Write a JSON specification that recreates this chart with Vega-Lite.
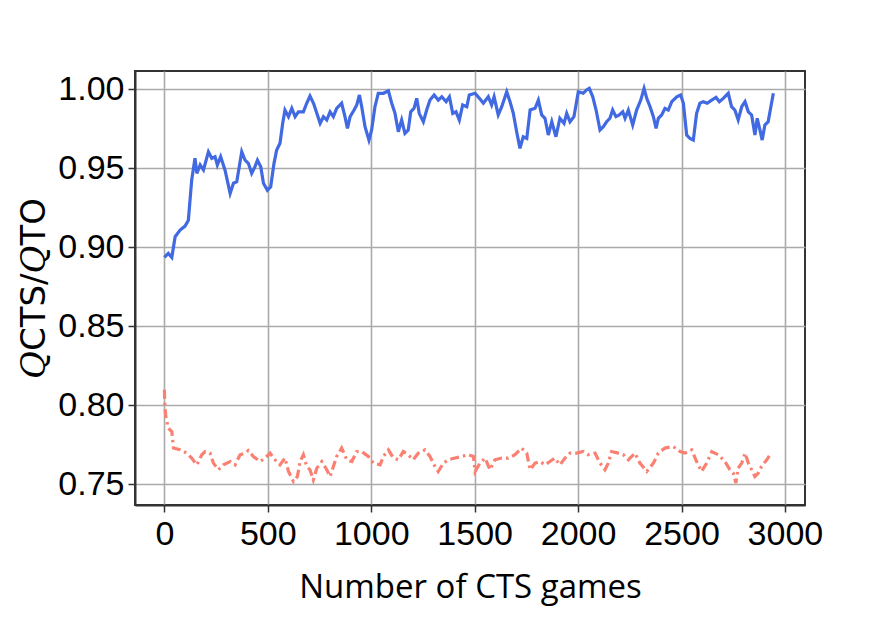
{
  "$schema": "https://vega.github.io/schema/vega-lite/v6.json",
  "width": 670,
  "height": 434,
  "autosize": {"type": "none"},
  "padding": {"left": 135, "top": 71, "right": 85, "bottom": 131},
  "background": "white",
  "config": {
    "view": {"stroke": "#333333", "strokeWidth": 2},
    "axis": {
      "labelFont": "Liberation Sans",
      "labelFontSize": 34,
      "labelColor": "#000000",
      "gridColor": "#aaaaaa",
      "gridWidth": 1.6,
      "tickColor": "#333333",
      "tickSize": 7,
      "tickWidth": 1.5,
      "domainColor": "#333333",
      "domainWidth": 2
    }
  },
  "datasets": {
    "blue": [
      {"x":0,"y":0.8935},{"x":19,"y":0.896},{"x":36,"y":0.8935},{"x":52,"y":0.9066},{"x":76,"y":0.9108},{"x":100,"y":0.9133},{"x":116,"y":0.917},{"x":132,"y":0.9424},{"x":148,"y":0.9562},{"x":157,"y":0.9467},{"x":173,"y":0.952},{"x":189,"y":0.9488},{"x":213,"y":0.9603},{"x":229,"y":0.9562},{"x":245,"y":0.9572},{"x":256,"y":0.952},{"x":272,"y":0.9572},{"x":293,"y":0.9488},{"x":318,"y":0.934},{"x":334,"y":0.9404},{"x":350,"y":0.9414},{"x":374,"y":0.9603},{"x":390,"y":0.955},{"x":406,"y":0.953},{"x":422,"y":0.9467},{"x":438,"y":0.9509},{"x":450,"y":0.955},{"x":466,"y":0.9509},{"x":479,"y":0.9404},{"x":498,"y":0.936},{"x":514,"y":0.9382},{"x":530,"y":0.953},{"x":543,"y":0.9614},{"x":559,"y":0.9657},{"x":572,"y":0.9783},{"x":583,"y":0.9867},{"x":600,"y":0.9825},{"x":616,"y":0.9878},{"x":632,"y":0.9825},{"x":648,"y":0.9856},{"x":672,"y":0.9856},{"x":688,"y":0.991},{"x":704,"y":0.9956},{"x":721,"y":0.991},{"x":737,"y":0.9846},{"x":753,"y":0.9783},{"x":769,"y":0.9825},{"x":785,"y":0.9804},{"x":801,"y":0.9856},{"x":817,"y":0.9825},{"x":833,"y":0.9878},{"x":857,"y":0.991},{"x":873,"y":0.9825},{"x":885,"y":0.9751},{"x":898,"y":0.9825},{"x":917,"y":0.9867},{"x":930,"y":0.9899},{"x":943,"y":0.9962},{"x":954,"y":0.9888},{"x":970,"y":0.9762},{"x":989,"y":0.9677},{"x":1002,"y":0.9741},{"x":1018,"y":0.9888},{"x":1034,"y":0.9973},{"x":1059,"y":0.9973},{"x":1083,"y":0.9989},{"x":1099,"y":0.991},{"x":1115,"y":0.9846},{"x":1131,"y":0.973},{"x":1147,"y":0.9804},{"x":1163,"y":0.972},{"x":1179,"y":0.9741},{"x":1191,"y":0.9856},{"x":1207,"y":0.9878},{"x":1220,"y":0.9941},{"x":1232,"y":0.9846},{"x":1252,"y":0.9793},{"x":1268,"y":0.9867},{"x":1284,"y":0.993},{"x":1304,"y":0.9962},{"x":1324,"y":0.993},{"x":1341,"y":0.9951},{"x":1362,"y":0.992},{"x":1378,"y":0.9951},{"x":1394,"y":0.9846},{"x":1410,"y":0.9856},{"x":1426,"y":0.9804},{"x":1442,"y":0.9899},{"x":1462,"y":0.9888},{"x":1474,"y":0.9962},{"x":1502,"y":0.9973},{"x":1523,"y":0.9941},{"x":1542,"y":0.991},{"x":1566,"y":0.9951},{"x":1582,"y":0.9899},{"x":1594,"y":0.9951},{"x":1614,"y":0.9836},{"x":1631,"y":0.9888},{"x":1655,"y":0.9983},{"x":1671,"y":0.992},{"x":1687,"y":0.9846},{"x":1703,"y":0.973},{"x":1719,"y":0.9625},{"x":1735,"y":0.9698},{"x":1752,"y":0.9688},{"x":1768,"y":0.9867},{"x":1792,"y":0.9878},{"x":1808,"y":0.993},{"x":1824,"y":0.9836},{"x":1840,"y":0.9815},{"x":1856,"y":0.9709},{"x":1873,"y":0.9793},{"x":1893,"y":0.9698},{"x":1912,"y":0.9815},{"x":1932,"y":0.9783},{"x":1945,"y":0.9846},{"x":1961,"y":0.9793},{"x":1980,"y":0.9825},{"x":2001,"y":0.9983},{"x":2025,"y":0.9973},{"x":2041,"y":0.9994},{"x":2054,"y":1.0004},{"x":2071,"y":0.9951},{"x":2087,"y":0.9867},{"x":2106,"y":0.9741},{"x":2122,"y":0.9762},{"x":2138,"y":0.9793},{"x":2154,"y":0.9815},{"x":2167,"y":0.9867},{"x":2183,"y":0.9825},{"x":2199,"y":0.9836},{"x":2216,"y":0.9856},{"x":2227,"y":0.9815},{"x":2243,"y":0.9867},{"x":2264,"y":0.9772},{"x":2283,"y":0.9867},{"x":2303,"y":0.993},{"x":2319,"y":1.0004},{"x":2332,"y":0.9941},{"x":2348,"y":0.9888},{"x":2364,"y":0.9825},{"x":2377,"y":0.9751},{"x":2388,"y":0.9815},{"x":2404,"y":0.9836},{"x":2420,"y":0.9878},{"x":2436,"y":0.9867},{"x":2453,"y":0.992},{"x":2477,"y":0.9951},{"x":2496,"y":0.9962},{"x":2509,"y":0.991},{"x":2525,"y":0.9709},{"x":2541,"y":0.9688},{"x":2557,"y":0.9677},{"x":2573,"y":0.9846},{"x":2589,"y":0.991},{"x":2605,"y":0.992},{"x":2624,"y":0.991},{"x":2646,"y":0.993},{"x":2667,"y":0.9947},{"x":2683,"y":0.992},{"x":2702,"y":0.9941},{"x":2726,"y":0.9973},{"x":2742,"y":0.9888},{"x":2758,"y":0.9867},{"x":2774,"y":0.9804},{"x":2791,"y":0.9888},{"x":2807,"y":0.992},{"x":2823,"y":0.9856},{"x":2839,"y":0.9836},{"x":2855,"y":0.9709},{"x":2866,"y":0.9815},{"x":2879,"y":0.9741},{"x":2890,"y":0.9677},{"x":2903,"y":0.9772},{"x":2919,"y":0.9793},{"x":2932,"y":0.9888},{"x":2944,"y":0.9973}
    ],
    "red": [
      {"x":0,"y":0.8098},{"x":3,"y":0.7982},{"x":8,"y":0.7919},{"x":19,"y":0.7855},{"x":36,"y":0.7834},{"x":44,"y":0.7729},{"x":76,"y":0.7718},{"x":108,"y":0.7697},{"x":132,"y":0.7666},{"x":157,"y":0.7623},{"x":181,"y":0.7687},{"x":197,"y":0.7707},{"x":221,"y":0.7697},{"x":237,"y":0.7634},{"x":261,"y":0.7592},{"x":285,"y":0.7623},{"x":318,"y":0.7644},{"x":342,"y":0.7623},{"x":366,"y":0.7687},{"x":390,"y":0.7697},{"x":406,"y":0.7714},{"x":430,"y":0.7676},{"x":463,"y":0.7644},{"x":487,"y":0.7666},{"x":511,"y":0.7697},{"x":535,"y":0.7655},{"x":559,"y":0.7623},{"x":583,"y":0.7666},{"x":600,"y":0.7581},{"x":624,"y":0.7518},{"x":643,"y":0.7549},{"x":656,"y":0.7644},{"x":672,"y":0.7687},{"x":688,"y":0.7613},{"x":704,"y":0.7592},{"x":720,"y":0.7528},{"x":737,"y":0.7602},{"x":761,"y":0.7644},{"x":785,"y":0.7592},{"x":801,"y":0.7549},{"x":817,"y":0.7613},{"x":833,"y":0.7676},{"x":857,"y":0.7729},{"x":882,"y":0.7655},{"x":906,"y":0.7644},{"x":930,"y":0.7707},{"x":954,"y":0.7707},{"x":986,"y":0.7676},{"x":1010,"y":0.7634},{"x":1043,"y":0.7623},{"x":1059,"y":0.7676},{"x":1083,"y":0.7718},{"x":1107,"y":0.7666},{"x":1131,"y":0.7655},{"x":1155,"y":0.7707},{"x":1179,"y":0.7687},{"x":1203,"y":0.7655},{"x":1228,"y":0.7697},{"x":1260,"y":0.7718},{"x":1284,"y":0.7676},{"x":1308,"y":0.7613},{"x":1324,"y":0.7581},{"x":1349,"y":0.7634},{"x":1373,"y":0.7655},{"x":1405,"y":0.7666},{"x":1437,"y":0.7676},{"x":1469,"y":0.7687},{"x":1494,"y":0.7676},{"x":1502,"y":0.7581},{"x":1526,"y":0.7634},{"x":1550,"y":0.7666},{"x":1574,"y":0.7592},{"x":1598,"y":0.7655},{"x":1631,"y":0.7666},{"x":1663,"y":0.7666},{"x":1695,"y":0.7687},{"x":1727,"y":0.7729},{"x":1752,"y":0.7697},{"x":1768,"y":0.7592},{"x":1792,"y":0.7634},{"x":1816,"y":0.7644},{"x":1840,"y":0.7623},{"x":1864,"y":0.7644},{"x":1888,"y":0.7666},{"x":1912,"y":0.7623},{"x":1937,"y":0.7666},{"x":1961,"y":0.7697},{"x":1993,"y":0.7697},{"x":2025,"y":0.7707},{"x":2049,"y":0.7687},{"x":2082,"y":0.7697},{"x":2106,"y":0.7634},{"x":2130,"y":0.7592},{"x":2146,"y":0.7634},{"x":2162,"y":0.7707},{"x":2194,"y":0.7697},{"x":2219,"y":0.7687},{"x":2243,"y":0.7655},{"x":2275,"y":0.7697},{"x":2299,"y":0.7634},{"x":2332,"y":0.7581},{"x":2364,"y":0.7634},{"x":2388,"y":0.7697},{"x":2420,"y":0.7729},{"x":2460,"y":0.7739},{"x":2493,"y":0.7707},{"x":2517,"y":0.7697},{"x":2549,"y":0.7718},{"x":2573,"y":0.7644},{"x":2597,"y":0.7581},{"x":2622,"y":0.7634},{"x":2646,"y":0.7707},{"x":2678,"y":0.7687},{"x":2710,"y":0.7644},{"x":2734,"y":0.7592},{"x":2750,"y":0.7571},{"x":2763,"y":0.7508},{"x":2774,"y":0.7602},{"x":2791,"y":0.7634},{"x":2807,"y":0.7697},{"x":2823,"y":0.7634},{"x":2839,"y":0.7592},{"x":2855,"y":0.7549},{"x":2871,"y":0.7571},{"x":2887,"y":0.7613},{"x":2912,"y":0.7655},{"x":2928,"y":0.7687}
    ]
  },
  "layer": [
    {
      "data": {"name": "blue"},
      "mark": {"type": "line", "color": "#4169e1", "strokeWidth": 3.2, "clip": true},
      "encoding": {
        "x": {
          "field": "x", "type": "quantitative",
          "scale": {"domain": [-142, 3097], "nice": false, "zero": false},
          "axis": {
            "values": [0, 500, 1000, 1500, 2000, 2500, 3000],
            "format": "d",
            "labelPadding": 5,
            "title": "Number of CTS games",
            "titleFont": "Open Sans",
            "titleFontSize": 33,
            "titleFontWeight": "normal",
            "titleColor": "#000000",
            "titlePadding": 20
          }
        },
        "y": {
          "field": "y", "type": "quantitative",
          "scale": {"domain": [0.7369, 1.0114], "nice": false, "zero": false},
          "axis": {
            "values": [0.75, 0.8, 0.85, 0.9, 0.95, 1.0],
            "format": ".2f",
            "labelPadding": 4,
            "title": "𝑄CTS/𝑄TO",
            "titleFont": "DejaVu Sans, DejaVu Serif",
            "titleFontSize": 34,
            "titleFontWeight": "normal",
            "titleColor": "#000000",
            "titlePadding": 6
          }
        }
      }
    },
    {
      "data": {"name": "red"},
      "mark": {"type": "line", "color": "#fa8072", "strokeWidth": 3.2, "strokeDash": [9, 4, 2.5, 4], "clip": true},
      "encoding": {
        "x": {"field": "x", "type": "quantitative"},
        "y": {"field": "y", "type": "quantitative"}
      }
    }
  ]
}
